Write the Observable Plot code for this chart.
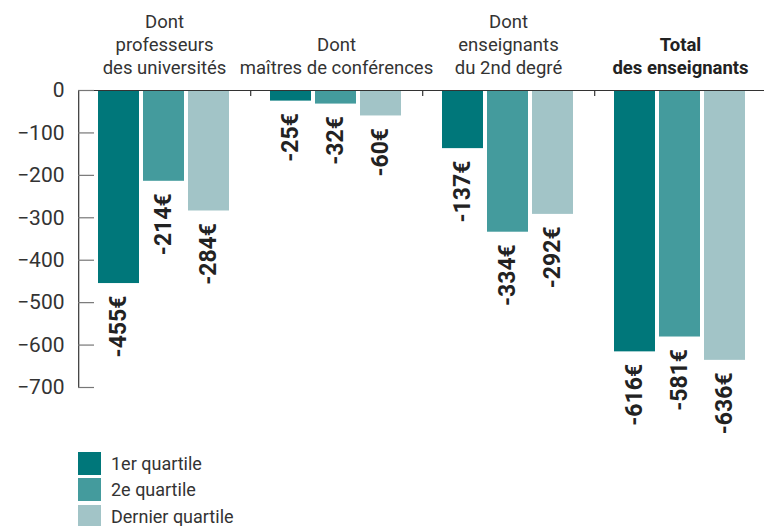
<!DOCTYPE html>
<html>
<head>
<meta charset="utf-8">
<script src="https://cdn.jsdelivr.net/npm/d3@7"></script>
<script src="https://cdn.jsdelivr.net/npm/@observablehq/plot@0.6"></script>
<style>
  html, body { margin: 0; padding: 0; background: #fff; }
  body { width: 764px; height: 526px; overflow: hidden; font-family: Roboto, "Noto Sans", sans-serif; }
  #legend { margin-left: 78px; margin-top: 5px; }
  .row { display: flex; align-items: center; height: 26.5px; }
  .sw { width: 23px; height: 23px; margin-right: 10px; }
  .lab { font-size: 18px; color: #333; }
  g[aria-label="y-axis tick label"] { font-size: 21px; }
</style>
</head>
<body>
<div id="chart"></div>
<div id="legend"></div>
<script>
const groups = ["prof", "mcf", "second", "total"];
const groupLabels = ["Dont\nprofesseurs\ndes universités", "Dont\nmaîtres de conférences", "Dont\nenseignants\ndu 2nd degré", "Total\ndes enseignants"];
const quartiles = ["1er quartile", "2e quartile", "Dernier quartile"];
const q1Values = [-455, -25, -137, -616];
const q2Values = [-214, -32, -334, -581];
const q4Values = [-284, -60, -292, -636];
const yTicks = [0, -100, -200, -300, -400, -500, -600, -700];
const colors = ["#00777a", "#449b9d", "#a2c4c7"];

const series = [q1Values, q2Values, q4Values];
const data = [];
groups.forEach((g, gi) => {
  quartiles.forEach((q, qi) => data.push({group: g, q, value: series[qi][gi]}));
});
const headers = groups.map((g, i) => ({group: g, label: groupLabels[i], bold: g === "total"}));
const edges = groups.map((g, i) => ({group: g, bottom: i === 0 ? yTicks[yTicks.length - 1] : -14}));

const chart = Plot.plot({
  width: 764,
  height: 445,
  marginTop: 90,
  marginBottom: 58,
  marginLeft: 77,
  marginRight: 0,
  style: {fontFamily: "Roboto, sans-serif", color: "#333", background: "#fff"},
  fx: {domain: groups, range: [77, 767], padding: 0, axis: null},
  x: {domain: quartiles, paddingInner: 0.087, paddingOuter: 0.42, axis: null},
  y: {domain: [-700, 0], axis: null},
  color: {domain: quartiles, range: colors},
  marks: [
    Plot.barY(data, {fx: "group", x: "q", y: "value", fill: "q"}),
    Plot.ruleY([0], {stroke: "#333", strokeWidth: 1.2}),
    Plot.ruleX(edges, {fx: "group", x: () => quartiles[0], y1: 0, y2: "bottom", dx: -40.3, stroke: "#333", strokeWidth: 1.2}),
    Plot.axisY(yTicks, {anchor: "left", tickSize: 16, dx: 16, tickPadding: 14, fontSize: 21, stroke: "#777", fill: "#333", strokeWidth: 1.2}),
    Plot.text(data, {fx: "group", x: "q", y: "value", text: d => `${d.value}€`, rotate: -90, textAnchor: "end", dy: 12, fontSize: 23, fontWeight: "bold", fill: "#222"}),
    Plot.text(headers.filter(d => !d.bold), {fx: "group", text: "label", frameAnchor: "top", lineAnchor: "bottom", dy: -17, fontSize: 18.5, lineHeight: 1.24, fill: "#333"}),
    Plot.text(headers.filter(d => d.bold), {fx: "group", text: "label", frameAnchor: "top", lineAnchor: "bottom", dy: -17, fontSize: 18.5, lineHeight: 1.24, fontWeight: "bold", fill: "#222"})
  ]
});
document.getElementById("chart").appendChild(chart);

const legend = document.getElementById("legend");
quartiles.forEach((q, i) => {
  const row = document.createElement("div");
  row.className = "row";
  row.innerHTML = `<div class="sw" style="background:${colors[i]}"></div><span class="lab">${q}</span>`;
  legend.appendChild(row);
});
</script>
</body>
</html>
